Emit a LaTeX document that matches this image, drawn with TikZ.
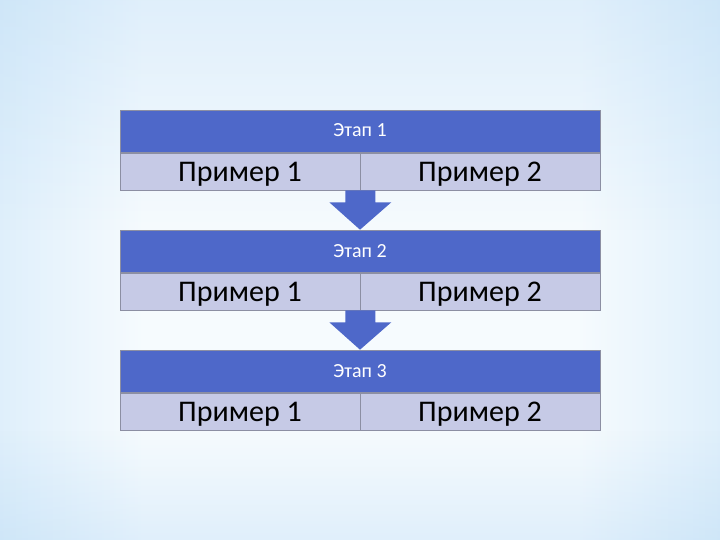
\documentclass[tikz,border=0pt]{standalone}
\usepackage{fontspec}
\setmainfont{Carlito}
\usetikzlibrary{calc,fadings}
\definecolor{hdrblue}{HTML}{4E68C9}
\definecolor{cellfill}{HTML}{C6CAE6}
\definecolor{bgblue}{HTML}{9ECCF2}
\definecolor{bgmid}{HTML}{CFE7F9}
\definecolor{bgcen}{HTML}{F6FBFE}
\definecolor{bordergray}{HTML}{8C8FA3}
\pgfdeclarehorizontalshading{bgshade}{100bp}{color(0bp)=(bgblue); color(6bp)=(bgblue!80!white); color(18bp)=(bgmid); color(35bp)=(bgcen); color(50bp)=(bgcen); color(65bp)=(bgcen); color(82bp)=(bgmid); color(94bp)=(bgblue!80!white); color(100bp)=(bgblue)}
\tikzfading[name=bandfade, top color=transparent!100, middle color=transparent!0, bottom color=transparent!100]
\tikzfading[name=topfade, top color=transparent!0, bottom color=transparent!100]
\tikzfading[name=botfade, top color=transparent!100, bottom color=transparent!0]
\tikzset{
  hdr/.style={rectangle, fill=hdrblue, draw=bordergray, line width=0.6pt,
    minimum width=480pt, minimum height=42pt, inner sep=0pt,
    text height=12pt, text depth=0pt,
    text=white, font=\fontsize{20}{22}\selectfont},
  cell/.style={rectangle, fill=cellfill, draw=bordergray, line width=0.6pt,
    minimum width=240pt, minimum height=37pt, inner sep=0pt,
    text height=20pt, text depth=0pt,
    text=black, font=\fontsize{30}{32}\selectfont},
  flowarrow/.style={fill=hdrblue, draw=none}
}
\begin{document}
\begin{tikzpicture}[x=1pt,y=-1pt]
\useasboundingbox (0,0) rectangle (720,540);
% background
\shade[shading=bgshade] (0,0) rectangle (720,540);
\fill[bgblue, opacity=0.25, path fading=topfade] (0,0) rectangle (720,230);
\fill[bgblue, opacity=0.25, path fading=botfade] (0,430) rectangle (720,540);
\fill[white, opacity=0.7, path fading=bandfade] (0,340) rectangle (720,372);
\fill[bgblue, opacity=0.35, path fading=bandfade] (0,368) rectangle (720,410);
% table 1
\node[hdr] (h1) at (360,131) {Этап 1};
\node[cell] (a1) at (240,171.5) {Пример 1};
\node[cell] (b1) at (480,171.5) {Пример 2};
% table 2
\node[hdr] (h2) at (360,251) {Этап 2};
\node[cell] (a2) at (240,291.5) {Пример 1};
\node[cell] (b2) at (480,291.5) {Пример 2};
% table 3
\node[hdr] (h3) at (360,371) {Этап 3};
\node[cell] (a3) at (240,411.5) {Пример 1};
\node[cell] (b3) at (480,411.5) {Пример 2};
% arrows
\foreach \u/\v in {a1/h2, a2/h3}{
  \fill[flowarrow]
    ($(\u.south east)+(-15,0)$) -- ($(\u.south east)+(15,0)$)
    -- ($(\u.south east)+(15,12)$) -- ($(\u.south east)+(31,12)$)
    -- (\v.north) -- ($(\u.south east)+(-31,12)$)
    -- ($(\u.south east)+(-15,12)$) -- cycle;
}
\end{tikzpicture}
\end{document}
